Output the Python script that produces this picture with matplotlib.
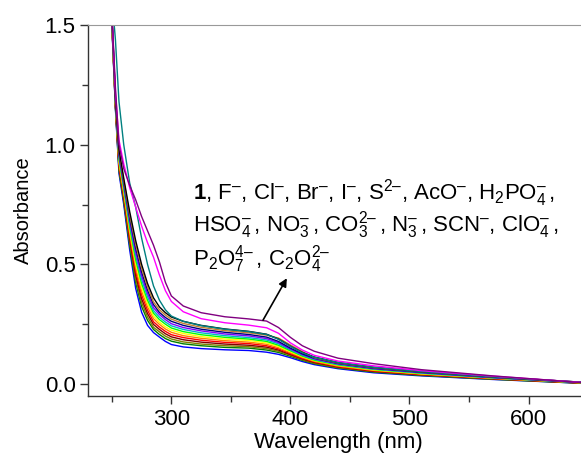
import matplotlib
matplotlib.use("Agg")
import matplotlib.pyplot as plt
from matplotlib.ticker import MultipleLocator

plt.rcParams['font.family'] = ['Liberation Sans', 'DejaVu Sans']
plt.rcParams['mathtext.fontset'] = 'custom'
plt.rcParams['mathtext.rm'] = 'Liberation Sans'
plt.rcParams['mathtext.it'] = 'Liberation Sans'
plt.rcParams['mathtext.bf'] = 'Liberation Sans:bold'

# wavelength grid (nm)
wl = [250, 253, 256, 260, 265, 270, 275, 280, 285, 290, 295, 300, 310, 325,
      345, 365, 380, 390, 400, 410, 420, 440, 470, 510, 570, 650]

# absorbance per sample, roughly top to bottom on the plateau
purple = [1.56, 1.24, 1.0, 0.90, 0.83, 0.77, 0.70, 0.64, 0.58, 0.51, 0.425, 0.368, 0.326,
          0.298, 0.281, 0.272, 0.263, 0.236, 0.195, 0.16, 0.137, 0.108, 0.085, 0.06, 0.034, 0.004]
magenta = [1.55, 1.22, 1.02, 0.92, 0.82, 0.74, 0.66, 0.59, 0.53, 0.455, 0.39, 0.345, 0.302,
           0.273, 0.256, 0.246, 0.235, 0.212, 0.172, 0.142, 0.12, 0.096, 0.076, 0.056, 0.033, 0.005]
teal = [1.62, 1.44, 1.18, 1.0, 0.84, 0.74, 0.61, 0.50, 0.41, 0.35, 0.31, 0.284, 0.262,
        0.244, 0.229, 0.219, 0.207, 0.187, 0.157, 0.131, 0.112, 0.09, 0.07, 0.052, 0.03, 0.006]
black = [1.55, 1.2, 0.98, 0.86, 0.72, 0.60, 0.50, 0.42, 0.36, 0.322, 0.298, 0.28, 0.262,
         0.245, 0.23, 0.22, 0.208, 0.188, 0.158, 0.132, 0.113, 0.09, 0.07, 0.052, 0.03, 0.006]
tan = [1.546, 1.196, 0.972, 0.851, 0.707, 0.584, 0.484, 0.406, 0.343, 0.31, 0.288, 0.271, 0.253,
       0.237, 0.223, 0.214, 0.204, 0.192, 0.163, 0.136, 0.11, 0.088, 0.068, 0.051, 0.029, 0.006]
navy = [1.542, 1.192, 0.964, 0.842, 0.694, 0.568, 0.468, 0.392, 0.332, 0.299, 0.278, 0.262, 0.245,
        0.229, 0.216, 0.207, 0.196, 0.178, 0.15, 0.126, 0.108, 0.086, 0.066, 0.049, 0.028, 0.005]
violet = [1.538, 1.188, 0.956, 0.834, 0.682, 0.552, 0.452, 0.378, 0.319, 0.29, 0.269, 0.252, 0.236,
          0.222, 0.209, 0.201, 0.19, 0.173, 0.146, 0.123, 0.105, 0.084, 0.064, 0.048, 0.027, 0.005]
cyan = [1.534, 1.184, 0.948, 0.825, 0.669, 0.536, 0.436, 0.364, 0.307, 0.279, 0.259, 0.243, 0.228,
        0.214, 0.202, 0.194, 0.184, 0.168, 0.143, 0.12, 0.103, 0.082, 0.063, 0.046, 0.026, 0.005]
green = [1.53, 1.18, 0.94, 0.816, 0.656, 0.52, 0.42, 0.35, 0.296, 0.269, 0.25, 0.234, 0.219,
         0.206, 0.195, 0.188, 0.178, 0.162, 0.139, 0.117, 0.1, 0.08, 0.061, 0.045, 0.026, 0.004]
yellow = [1.526, 1.176, 0.932, 0.807, 0.643, 0.504, 0.404, 0.336, 0.284, 0.258, 0.239, 0.225, 0.211,
          0.198, 0.188, 0.182, 0.172, 0.157, 0.135, 0.114, 0.098, 0.078, 0.059, 0.043, 0.025, 0.004]
orange = [1.522, 1.172, 0.924, 0.798, 0.63, 0.488, 0.388, 0.322, 0.273, 0.249, 0.23, 0.216, 0.202,
          0.191, 0.181, 0.175, 0.166, 0.152, 0.131, 0.111, 0.095, 0.075, 0.057, 0.042, 0.024, 0.004]
red = [1.518, 1.168, 0.916, 0.79, 0.618, 0.472, 0.372, 0.308, 0.26, 0.238, 0.22, 0.206, 0.194,
       0.183, 0.174, 0.169, 0.16, 0.147, 0.127, 0.108, 0.093, 0.073, 0.055, 0.04, 0.023, 0.003]
wine = [1.514, 1.164, 0.908, 0.781, 0.605, 0.456, 0.356, 0.294, 0.249, 0.228, 0.21, 0.197, 0.185,
        0.175, 0.167, 0.162, 0.154, 0.142, 0.123, 0.105, 0.09, 0.071, 0.053, 0.039, 0.022, 0.003]
olive = [1.51, 1.16, 0.90, 0.772, 0.592, 0.44, 0.34, 0.28, 0.237, 0.218, 0.2, 0.188, 0.176,
         0.167, 0.16, 0.156, 0.148, 0.137, 0.12, 0.102, 0.087, 0.069, 0.052, 0.038, 0.021, 0.003]
dkgreen = [1.506, 1.156, 0.892, 0.763, 0.579, 0.424, 0.324, 0.266, 0.228, 0.207, 0.19, 0.179, 0.168,
           0.16, 0.153, 0.15, 0.142, 0.132, 0.116, 0.099, 0.085, 0.067, 0.05, 0.036, 0.02, 0.002]
blue = [1.50, 1.15, 0.88, 0.75, 0.56, 0.40, 0.30, 0.245, 0.215, 0.196, 0.178, 0.165, 0.155,
        0.148, 0.143, 0.14, 0.133, 0.124, 0.11, 0.094, 0.081, 0.064, 0.047, 0.034, 0.019, 0.002]

series = [
    (blue, '#0000FF'), (dkgreen, '#008000'), (olive, '#808000'), (wine, '#800000'),
    (red, '#FF0000'), (orange, '#FF8000'), (yellow, '#FFFF00'), (green, '#00FF00'),
    (cyan, '#00B4C8'), (violet, '#8000FF'), (navy, '#000080'), (tan, '#C08030'),
    (black, '#000000'), (teal, '#008080'), (magenta, '#FF00FF'), (purple, '#800080'),
]

fig = plt.figure(figsize=(5.81, 4.57), dpi=100)
ax = fig.add_axes([0.1515, 0.1335, 0.8606, 0.8118])

for vals, col in series:
    ax.plot(wl, vals, color=col, lw=1.0)

ax.set_xlim(230, 650)
ax.set_ylim(-0.05, 1.5)
ax.xaxis.set_major_locator(MultipleLocator(100))
ax.xaxis.set_minor_locator(MultipleLocator(50))
ax.yaxis.set_major_locator(MultipleLocator(0.5))
ax.yaxis.set_minor_locator(MultipleLocator(0.25))
ax.set_xticks([300, 400, 500, 600])
ax.tick_params(which='both', direction='out', labelsize=16, width=1.0, color='#333333')
ax.tick_params(which='major', length=6)
ax.tick_params(which='minor', length=4)
ax.tick_params(axis='y', pad=3)
ax.spines['right'].set_visible(False)
ax.spines['top'].set_color('#999999')
ax.spines['top'].set_linewidth(0.8)
for s in ('left', 'bottom'):
    ax.spines[s].set_linewidth(1.0)
    ax.spines[s].set_color('#333333')

ax.set_xlabel('Wavelength (nm)', fontsize=16, labelpad=1)
ax.set_ylabel('Absorbance', fontsize=14.5, labelpad=8)

lines = [
    r'$\mathbf{1}$, F$^{–}$, Cl$^{–}$, Br$^{–}$, I$^{–}$, S$^{2–}$, AcO$^{–}$, H$_2$PO$_4^{–}\,$,',
    r'HSO$_4^{–}\,$, NO$_3^{–}\,$, CO$_3^{2–}\,$, N$_3^{–}\,$, SCN$^{–}$, ClO$_4^{–}\,$,',
    r'P$_2$O$_7^{4–}\,$, C$_2$O$_4^{2–}$',
]
ys = [0.769, 0.637, 0.497]
for txt, yy in zip(lines, ys):
    ax.text(318, yy, txt, fontsize=16, va='baseline', ha='left')

ax.annotate('', xy=(397, 0.442), xytext=(377, 0.267),
            arrowprops=dict(arrowstyle='-|>', color='black', lw=1.2,
                            mutation_scale=12, shrinkA=0, shrinkB=0))

fig.savefig('out.png', dpi=100)
